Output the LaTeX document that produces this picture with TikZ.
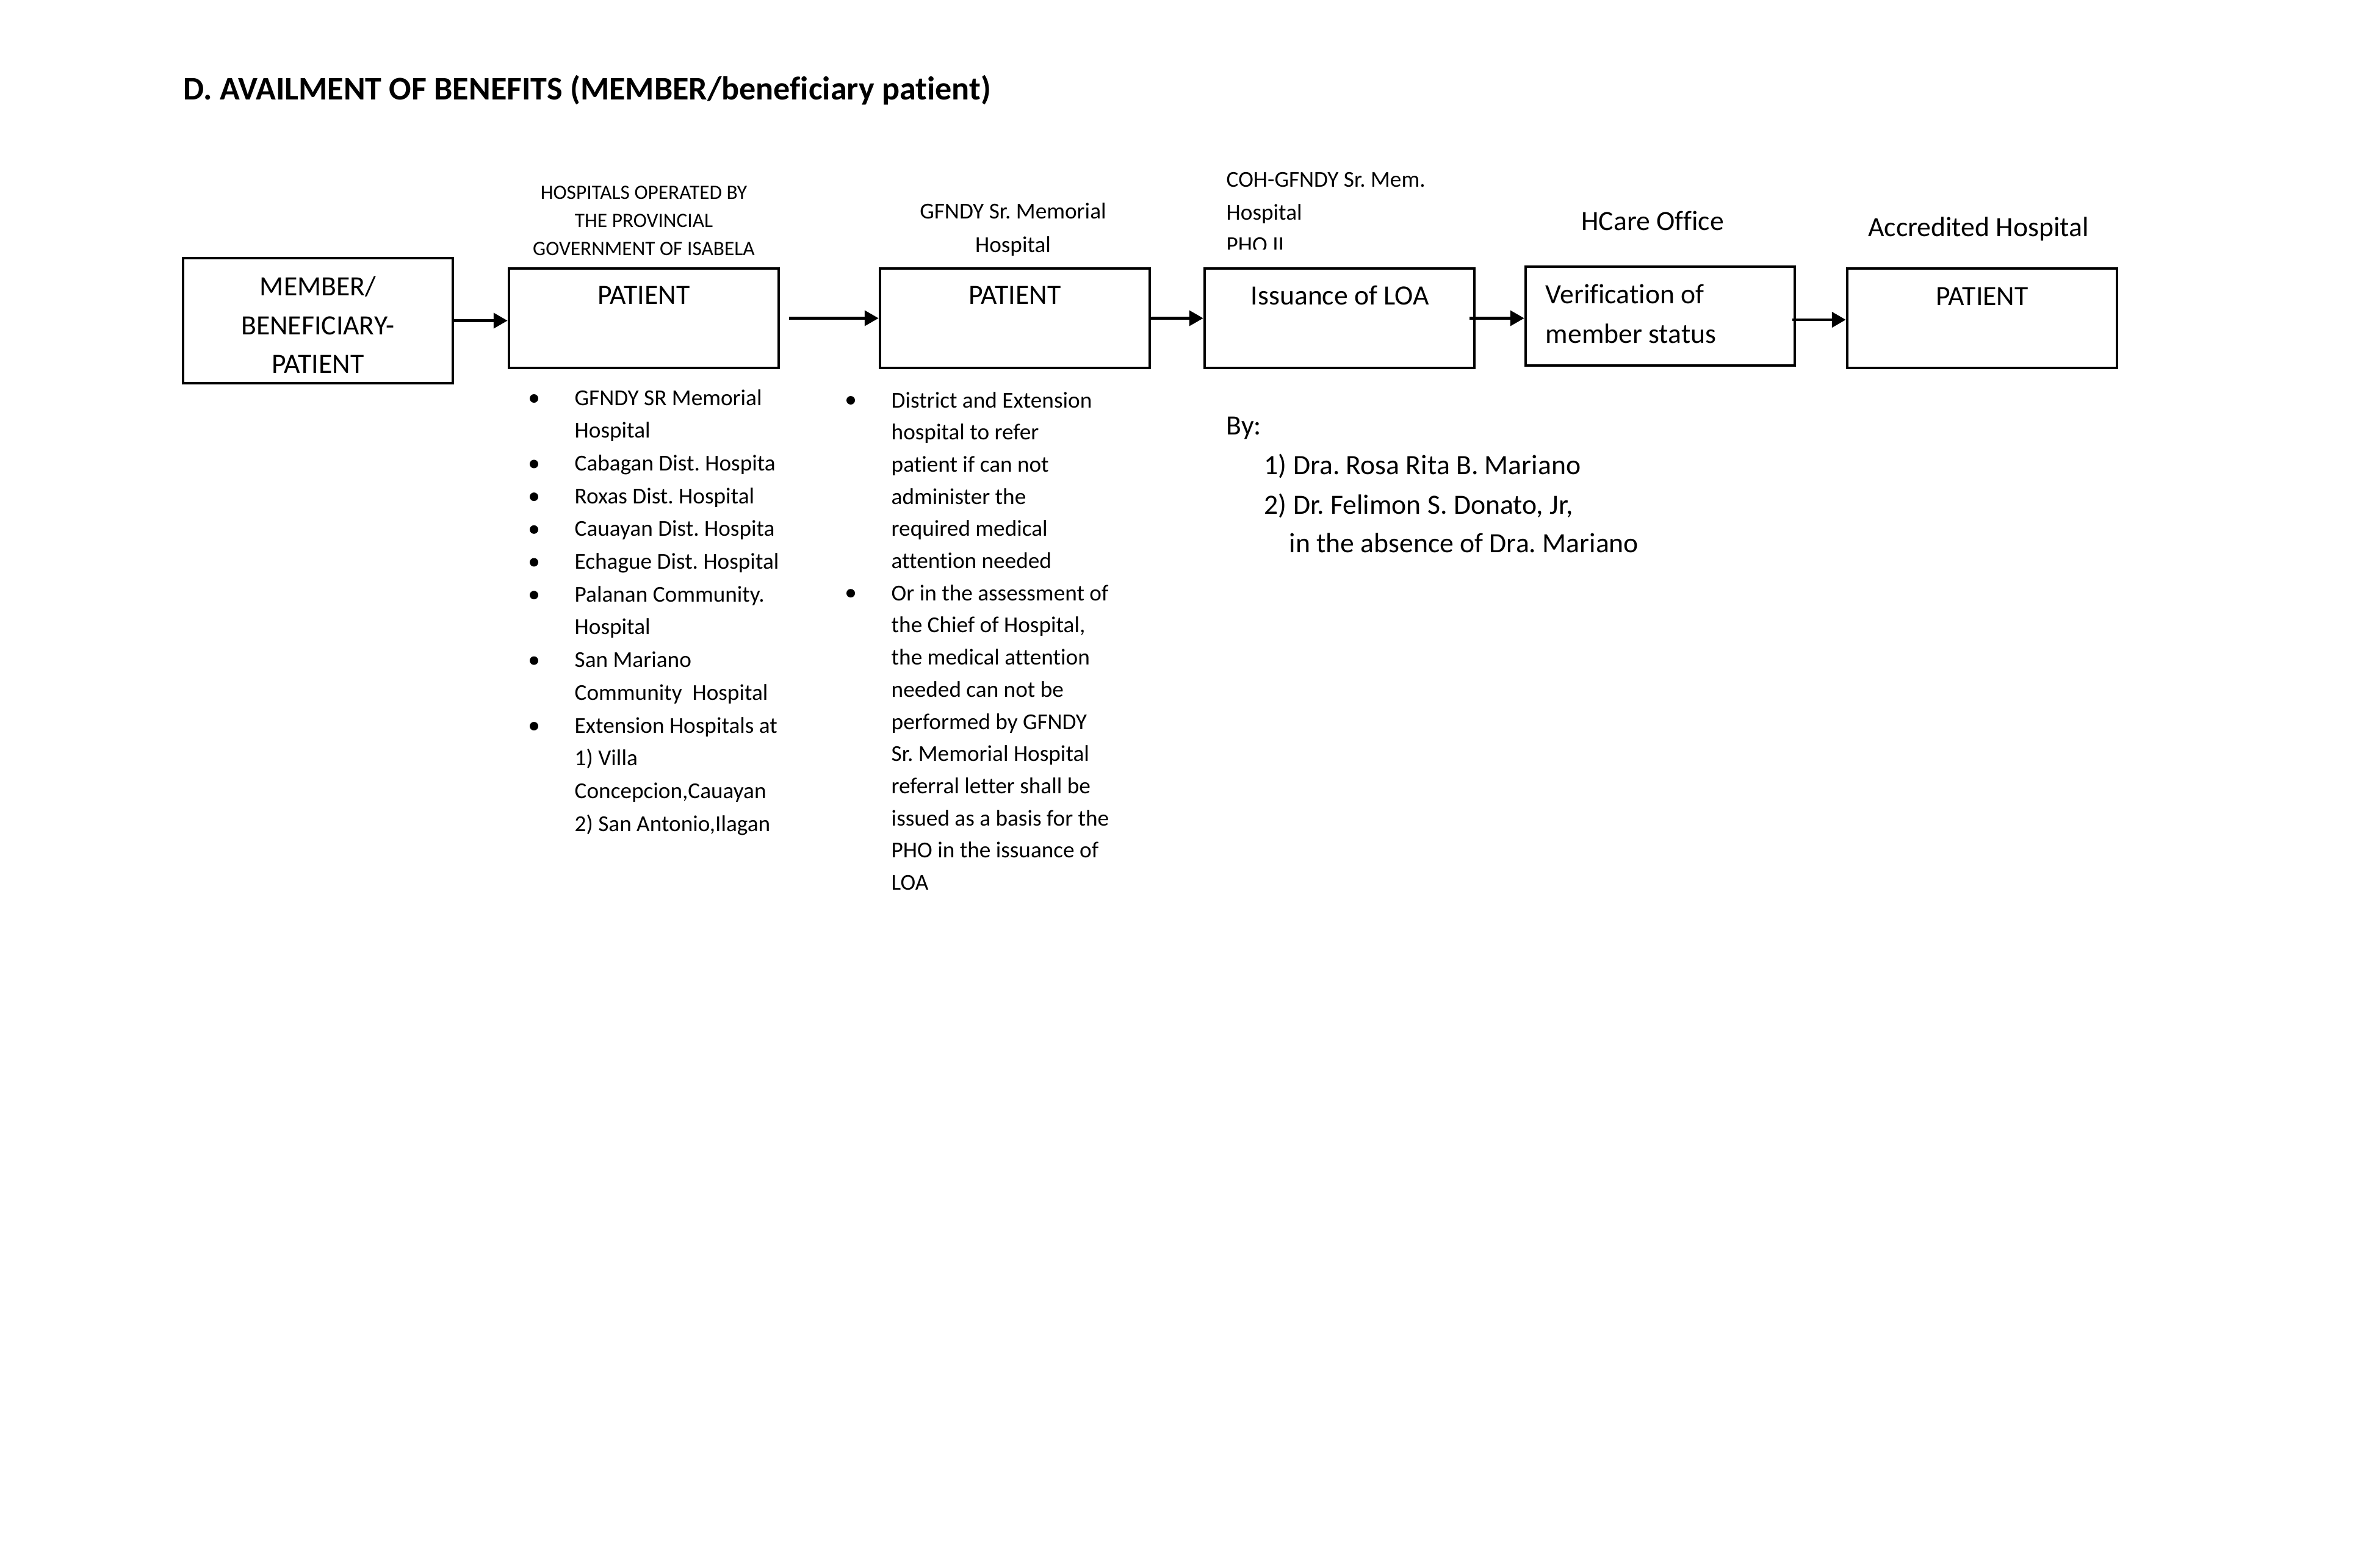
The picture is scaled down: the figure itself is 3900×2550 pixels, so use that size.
\documentclass[tikz,border=0pt]{standalone}
\usepackage{fontspec}
\setmainfont{Carlito}[Ligatures=NoCommon]
\frenchspacing
\usetikzlibrary{arrows.meta}
\tikzset{
  boxn/.style={draw, line width=1.3pt, inner sep=0pt, minimum width=44.2mm, minimum height=16.3mm},
  flow/.style={line width=1.4pt, -{Triangle[length=6.5pt,width=7pt]}},
  ttl/.style={inner sep=0pt, font=\bfseries\fontsize{15.4}{18.5}\selectfont},
  tbig/.style={inner sep=0pt, font=\fontsize{13}{15.6}\selectfont},
  tmid/.style={inner sep=0pt, font=\fontsize{10.6}{12.7}\selectfont},
  tsml/.style={inner sep=0pt, font=\fontsize{9.5}{11.4}\selectfont},
}
\begin{document}
\begin{tikzpicture}[x=0.1mm,y=-0.1mm]
\useasboundingbox (0,0) rectangle (3900,2550);

% title
\node[ttl, anchor=base west] (title) at (300,164) {D. AVAILMENT OF BENEFITS (MEMBER/beneficiary patient)};

% boxes
\node[boxn, minimum height=20.5mm] (b1) at (521,525.5) {};
\node[boxn] (b2) at (1055,521.5) {};
\node[boxn] (b3) at (1663,521.5) {};
\node[boxn] (b4) at (2195,521.5) {};
\node[boxn, minimum width=44.1mm, minimum height=16.2mm] (b5) at (2720.5,518) {};
\node[boxn] (b6) at (3248,521.5) {};

% box texts
\node[tbig, anchor=base] (m1) at (521,484) {MEMBER/};
\node[tbig, anchor=base] (m2) at (521,548) {BENEFICIARY-};
\node[tbig, anchor=base] (m3) at (521,611) {PATIENT};
\node[tbig, anchor=base] (p2) at (1055,498) {PATIENT};
\node[tbig, anchor=base] (p3) at (1663,498) {PATIENT};
\node[tbig, anchor=base] (p4) at (2196,499) {Issuance of LOA};
\node[tbig, anchor=base west] (v1) at (2532,497) {Verification of};
\node[tbig, anchor=base west] (v2) at (2532,562) {member status};
\node[tbig, anchor=base] (p6) at (3248,500) {PATIENT};

% labels above boxes
\node[tsml, anchor=base] (h1) at (1055,327) {HOSPITALS OPERATED BY};
\node[tsml, anchor=base] (h2) at (1055,373) {THE PROVINCIAL};
\node[tsml, anchor=base] (h3) at (1055,419) {GOVERNMENT OF ISABELA};
\node[tmid, anchor=base] (g1) at (1660,359) {GFNDY Sr. Memorial};
\node[tmid, anchor=base] (g2) at (1660,413) {Hospital};
\node[tmid, anchor=base west] (c1) at (2009,307) {COH-GFNDY Sr. Mem.};
\node[tmid, anchor=base west] (c2) at (2009,360) {Hospital};
\begin{scope}
  \clip (1990,370) rectangle (2300,409);
  \node[tmid, anchor=base west] (c3) at (2009,414) {PHO II};
\end{scope}
\node[tbig, anchor=base] (hc) at (2708,378) {HCare Office};
\node[tbig, anchor=base] (ah) at (3242,388) {Accredited Hospital};

% connectors
\draw[flow] (b1.east) -- (b1.east -| b2.west);
\draw[flow] ([xshift=1.5mm]b2.east) -- (b3.west);
\draw[flow] (b3.east) -- (b4.west);
\draw[flow] ([xshift=-1mm]b4.east) -- (b4.east -| b5.west);
\draw[flow] ([xshift=-0.6mm,yshift=-0.6mm]b5.east) -- ([yshift=-0.6mm]b5.east -| b6.west);

% list under box 2
\foreach \t [count=\i from 0] in {GFNDY SR Memorial, Hospital, Cabagan Dist. Hospita, Roxas Dist. Hospital, Cauayan Dist. Hospita, Echague Dist. Hospital, Palanan Community., Hospital, San Mariano, Community~ Hospital, Extension Hospitals at, 1) Villa, {Concepcion,Cauayan}, {2) San Antonio,Ilagan}}
  \node[tmid, anchor=base west] (la\i) at (941,{664+53.7*\i}) {\t};
\foreach \k in {0,2,3,4,5,6,8,10}
  \fill (875,{653+53.7*\k}) circle (0.7mm);

% list under box 3
\foreach \t [count=\i from 0] in {District and Extension, hospital to refer, patient if can not, administer the, required medical, attention needed, Or in the assessment of, {the Chief of Hospital,}, the medical attention, needed can not be, performed by GFNDY, Sr. Memorial Hospital, referral letter shall be, issued as a basis for the, PHO in the issuance of, LOA}
  \node[tmid, anchor=base west] (lb\i) at (1460,{668+52.7*\i}) {\t};
\foreach \k in {0,6}
  \fill (1394,{656+52.7*\k}) circle (0.7mm);

% by block
\node[tbig, anchor=base west] (by0) at (2009,712) {By:};
\node[tbig, anchor=base west] (by1) at (2071,777) {1) Dra. Rosa Rita B. Mariano};
\node[tbig, anchor=base west] (by2) at (2071,842) {2) Dr. Felimon S. Donato, Jr,};
\node[tbig, anchor=base west] (by3) at (2112,905) {in the absence of Dra. Mariano};
\end{tikzpicture}
\end{document}
